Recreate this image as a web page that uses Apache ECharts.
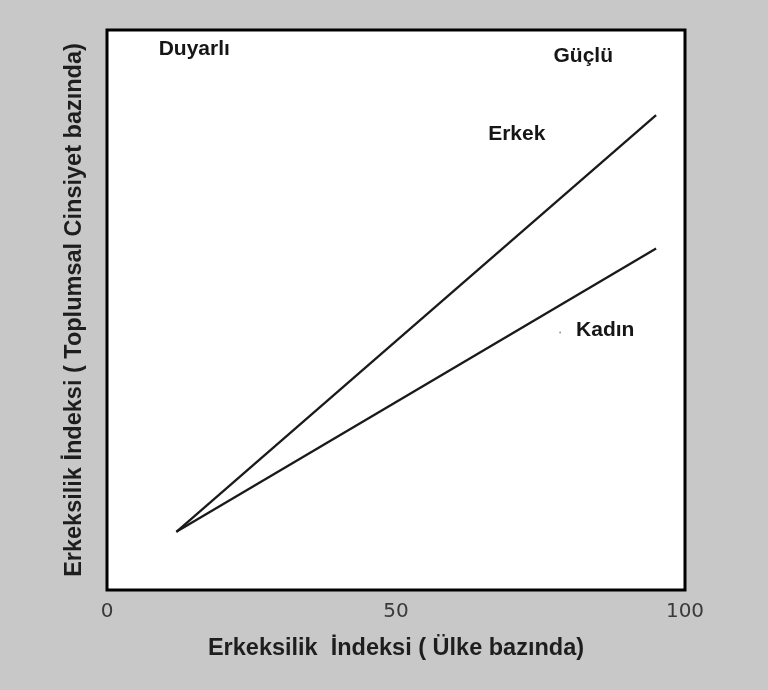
<!DOCTYPE html>
<html lang="tr">
<head>
<meta charset="utf-8">
<title>Erkeksilik İndeksi</title>
<script src="https://cdn.jsdelivr.net/npm/echarts@6/dist/echarts.min.js"></script>
<style>
  html, body { margin: 0; padding: 0; background: #c8c8c8; }
  #container { width: 768px; height: 690px; }
</style>
</head>
<body>
<div id="container"></div>
<script>
// data (x: ülke bazında, y: toplumsal cinsiyet bazında)
var xTicks = [0, 50, 100];
var erkek = [[12, 10.4], [95, 84.8]];
var kadin = [[12, 10.4], [95, 61]];
var notes = [
  { name: 'Duyarlı', value: [15.1, 96.6] },
  { name: 'Güçlü', value: [82.4, 95.3] },
  { name: 'Erkek', value: [70.9, 81.4] },
  { name: 'Kadın', value: [86.2, 46.4] }
];
var dot = [[78.4, 46]];

var font = '"Liberation Sans", Arial, sans-serif';
var myChart = echarts.init(document.getElementById('container'));

var option = {
  backgroundColor: '#c8c8c8',
  animation: false,
  grid: {
    left: 107, right: 83, top: 30, bottom: 100,
    show: true, backgroundColor: '#ffffff',
    borderColor: '#000', borderWidth: 3
  },
  xAxis: {
    type: 'value', min: 0, max: 100, interval: 50,
    name: 'Erkeksilik  İndeksi ( Ülke bazında)',
    nameLocation: 'middle', nameGap: 47,
    nameTextStyle: { fontFamily: font, fontWeight: 'bold', fontSize: 23.5, color: '#1e1e1e' },
    axisLine: { show: false }, axisTick: { show: false }, splitLine: { show: false },
    axisLabel: {
      margin: 12, fontSize: 20, color: '#3a3a3a', fontFamily: '"DejaVu Sans", sans-serif',
      formatter: function (v) { return xTicks.indexOf(v) >= 0 ? String(v) : ''; }
    }
  },
  yAxis: {
    type: 'value', min: 0, max: 100,
    name: 'Erkeksilik İndeksi ( Toplumsal Cinsiyet bazında)',
    nameLocation: 'middle', nameGap: 20, nameRotate: 90,
    nameTextStyle: { fontFamily: font, fontWeight: 'bold', fontSize: 23.5, color: '#1e1e1e' },
    axisLine: { show: false }, axisTick: { show: false }, splitLine: { show: false },
    axisLabel: { show: false }
  },
  series: [
    {
      name: 'Erkek', type: 'line', data: erkek, symbol: 'none',
      lineStyle: { color: '#1a1a1a', width: 2.3 }
    },
    {
      name: 'Kadın', type: 'line', data: kadin, symbol: 'none',
      lineStyle: { color: '#1a1a1a', width: 2.3 }
    },
    {
      type: 'scatter', data: notes, symbolSize: 0,
      itemStyle: { opacity: 1 },
      label: {
        show: true, position: 'inside', formatter: '{b}',
        fontFamily: font, fontWeight: 'bold', fontSize: 21, color: '#161616',
        textBorderWidth: 0
      }
    },
    {
      type: 'scatter', data: dot, symbolSize: 2,
      itemStyle: { color: '#999', opacity: 1 }
    }
  ]
};
myChart.setOption(option);
</script>
</body>
</html>
